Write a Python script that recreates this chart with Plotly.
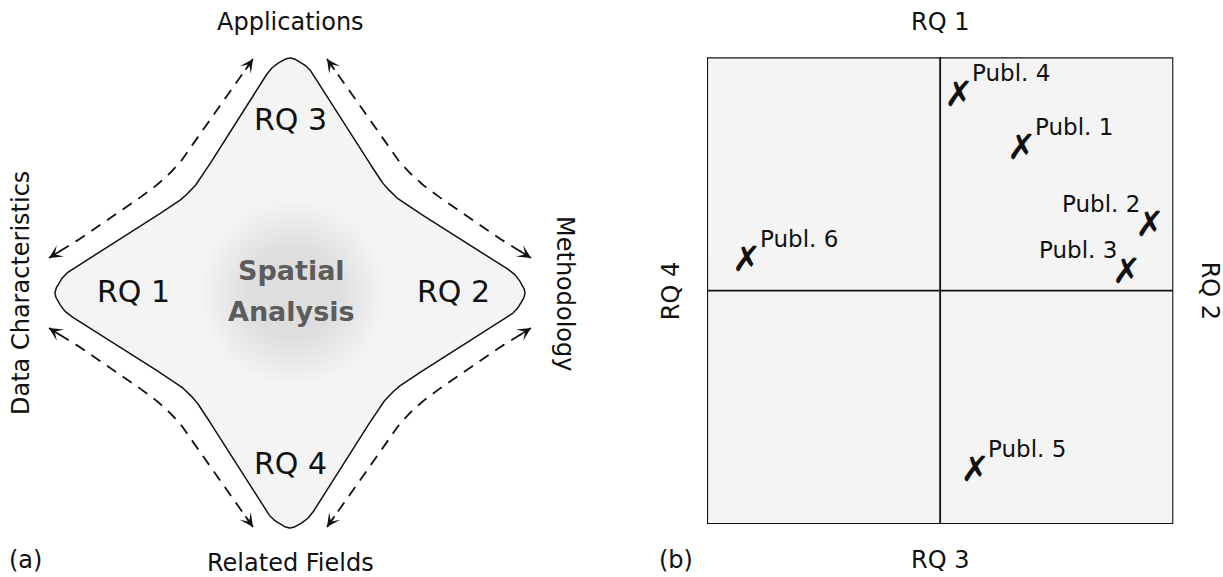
import numpy as np
import plotly.graph_objects as go

# ---------------- data ----------------
# panel (a): labels
rq_labels_a = ["RQ 1", "RQ 2", "RQ 3", "RQ 4"]
side_labels = ["Applications", "Methodology", "Related Fields", "Data Characteristics"]
center_label = ["Spatial", "Analysis"]

# panel (b): publication positions (x: RQ4 -> RQ2, y: RQ3 -> RQ1)
publications = ["Publ. 1", "Publ. 2", "Publ. 3", "Publ. 4", "Publ. 5", "Publ. 6"]
pub_x = [0.35, 0.90, 0.80, 0.08, 0.15, -0.83]
pub_y = [0.60, 0.27, 0.07, 0.83, -0.78, 0.12]
label_side = ["right", "left", "left", "right", "right", "right"]
rq_labels_b = ["RQ 1", "RQ 2", "RQ 3", "RQ 4"]

# ---------------- geometry of the diagram (panel a) ----------------
# upper-left quadrant outline of the four-pointed star (top tip -> left tip)
star_quadrant = [(0, 235), (-10, 231), (-20, 223), (-30, 208), (-45, 185), (-60, 161),
                 (-77, 134), (-92, 111), (-101, 101), (-111, 92), (-134, 77), (-161, 60),
                 (-185, 45), (-208, 30), (-223, 20), (-231, 10), (-235, 0)]
# upper-left dashed double arrow (top end -> side end)
dash_quadrant = [(-37, 234), (-60, 201), (-85, 165), (-105, 137), (-120, 120),
                 (-137, 105), (-165, 85), (-201, 60), (-241, 35)]

FONT = "DejaVu Sans"
INK = "#111111"
FILL = "#f4f4f4"


def catmull(pts, closed=False, n=14):
    P = np.array(pts, float)
    if not closed:
        P = np.vstack([P[0], P, P[-1]])
    N = len(P)
    out = []
    rng = range(N) if closed else range(1, N - 2)
    for i in rng:
        p0, p1, p2, p3 = P[(i - 1) % N], P[i], P[(i + 1) % N], P[(i + 2) % N]
        for t in np.linspace(0, 1, n, endpoint=False):
            t2, t3 = t * t, t * t * t
            out.append(0.5 * ((2 * p1) + (-p0 + p2) * t + (2 * p0 - 5 * p1 + 4 * p2 - p3) * t2
                              + (-p0 + 3 * p1 - 3 * p2 + p3) * t3))
    if closed:
        out.append(out[0])
    else:
        out.append(P[-2])
    return np.array(out)


Q = star_quadrant
full = list(Q)
full += [(x, -y) for (x, y) in reversed(Q)][1:]
full += [(-x, -y) for (x, y) in Q][1:]
full += [(-x, y) for (x, y) in reversed(Q)][1:-1]
star = catmull(full, closed=True)

fig = go.Figure()

fig.add_trace(go.Scatter(x=star[:, 0], y=star[:, 1], mode="lines", fill="toself",
                         fillcolor=FILL, line=dict(color=INK, width=1.5),
                         hoverinfo="skip", xaxis="x", yaxis="y"))

annotations = []
mirrors = [(1, 1), (-1, 1), (1, -1), (-1, -1)]
dx_all, dy_all = [], []
for sx, sy in mirrors:
    pts = [(sx * x, sy * y) for (x, y) in dash_quadrant]
    c = catmull(pts)
    dx_all += list(c[:, 0]) + [None]
    dy_all += list(c[:, 1]) + [None]
    # arrow heads at both ends
    for tip, prev in [(pts[0], pts[1]), (pts[-1], pts[-2])]:
        v = np.array(tip, float) - np.array(prev, float)
        v /= np.linalg.norm(v)
        tail = np.array(tip, float) - 15 * v
        annotations.append(dict(x=tip[0], y=tip[1], ax=tail[0], ay=tail[1], xref="x", yref="y",
                                axref="x", ayref="y", text="", showarrow=True, arrowhead=3,
                                arrowsize=1.4, arrowwidth=1.6, arrowcolor=INK, standoff=0))

fig.add_trace(go.Scatter(x=dx_all, y=dy_all, mode="lines",
                         line=dict(color=INK, width=1.8, dash="11px,8px"),
                         hoverinfo="skip", xaxis="x", yaxis="y"))

# blurred centre disc (soft radial fade built from stacked translucent discs)
shapes = []
for r in np.linspace(92, 45, 22):
    shapes.append(dict(type="circle", xref="x", yref="y", x0=3 - r, x1=3 + r, y0=-r, y1=r,
                       fillcolor="rgba(200,200,203,0.02)", line=dict(width=0), layer="above"))


def txt(x, y, s, size, xref="x", yref="y", angle=0, color=INK, bold=False, xanchor="center"):
    annotations.append(dict(x=x, y=y, xref=xref, yref=yref, text=s, showarrow=False,
                            textangle=angle, xanchor=xanchor, yanchor="middle",
                            font=dict(family=FONT, size=size, color=color,
                                      weight="bold" if bold else "normal")))


# panel (a) texts
txt(-157, 2, rq_labels_a[0], 30)
txt(163, 2, rq_labels_a[1], 30)
txt(0, 174, rq_labels_a[2], 30)
txt(0, -170, rq_labels_a[3], 30)
txt(0, 271.5, side_labels[0], 24)
txt(275, 0, side_labels[1], 24, angle=90)
txt(0, -270, side_labels[2], 24)
txt(-269, 0, side_labels[3], 24, angle=-90)
txt(1, 23, center_label[0], 27, color="#5c5c5c", bold=True)
txt(1, -18, center_label[1], 27, color="#5c5c5c", bold=True)
txt(-265, -267, "(a)", 24)

# ---------------- panel (b) ----------------
shapes.append(dict(type="rect", xref="x2", yref="y2", x0=-1, x1=1, y0=-1, y1=1,
                   fillcolor=FILL, line=dict(color=INK, width=2.2), layer="below"))
shapes.append(dict(type="line", xref="x2", yref="y2", x0=0, x1=0, y0=-1, y1=1,
                   line=dict(color=INK, width=1.8), layer="below"))
shapes.append(dict(type="line", xref="x2", yref="y2", x0=-1, x1=1, y0=0, y1=0,
                   line=dict(color=INK, width=1.8), layer="below"))

fig.add_trace(go.Scatter(x=pub_x, y=pub_y, mode="text", text=["\u2717"] * len(pub_x),
                         textposition="middle center",
                         textfont=dict(family=FONT, size=35, color=INK, weight="bold"),
                         hoverinfo="skip", xaxis="x2", yaxis="y2"))

for name, x, y, side in zip(publications, pub_x, pub_y, label_side):
    annotations.append(dict(x=x, y=y, xref="x2", yref="y2", text=name, showarrow=False,
                            xanchor="left" if side == "right" else "right", yanchor="middle",
                            xshift=11 if side == "right" else -8, yshift=24,
                            font=dict(family=FONT, size=23, color=INK)))

# labels around the box, in the box's domain fractions
txt(0.5, 1.0756, rq_labels_b[0], 24, xref="x2 domain", yref="y2 domain")
txt(1.0787, 0.5, rq_labels_b[1], 24, xref="x2 domain", yref="y2 domain", angle=90)
txt(0.5, -0.0761, rq_labels_b[2], 24, xref="x2 domain", yref="y2 domain")
txt(-0.0783, 0.5, rq_labels_b[3], 24, xref="x2 domain", yref="y2 domain", angle=-90)
txt(-0.0665, -0.0770, "(b)", 24, xref="x2 domain", yref="y2 domain")

W, H = 1223, 577
ax_hidden = dict(visible=False, showgrid=False, zeroline=False, fixedrange=True)
fig.update_layout(
    width=W, height=H, margin=dict(l=0, r=0, t=0, b=0),
    paper_bgcolor="white", plot_bgcolor="rgba(0,0,0,0)", showlegend=False,
    xaxis=dict(domain=[0, 600 / W], range=[-290, 310], **ax_hidden),
    yaxis=dict(domain=[0, 1], range=[-284, 293], **ax_hidden),
    xaxis2=dict(domain=[707 / W, 1173.3 / W], range=[-1, 1], anchor="y2", **ax_hidden),
    yaxis2=dict(domain=[1 - 524 / H, 1 - 57.3 / H], range=[-1, 1], anchor="x2", **ax_hidden),
    shapes=shapes, annotations=annotations,
)

fig.write_html("out.html", config={"displayModeBar": False},
               post_script="document.body.style.margin='0px';")
